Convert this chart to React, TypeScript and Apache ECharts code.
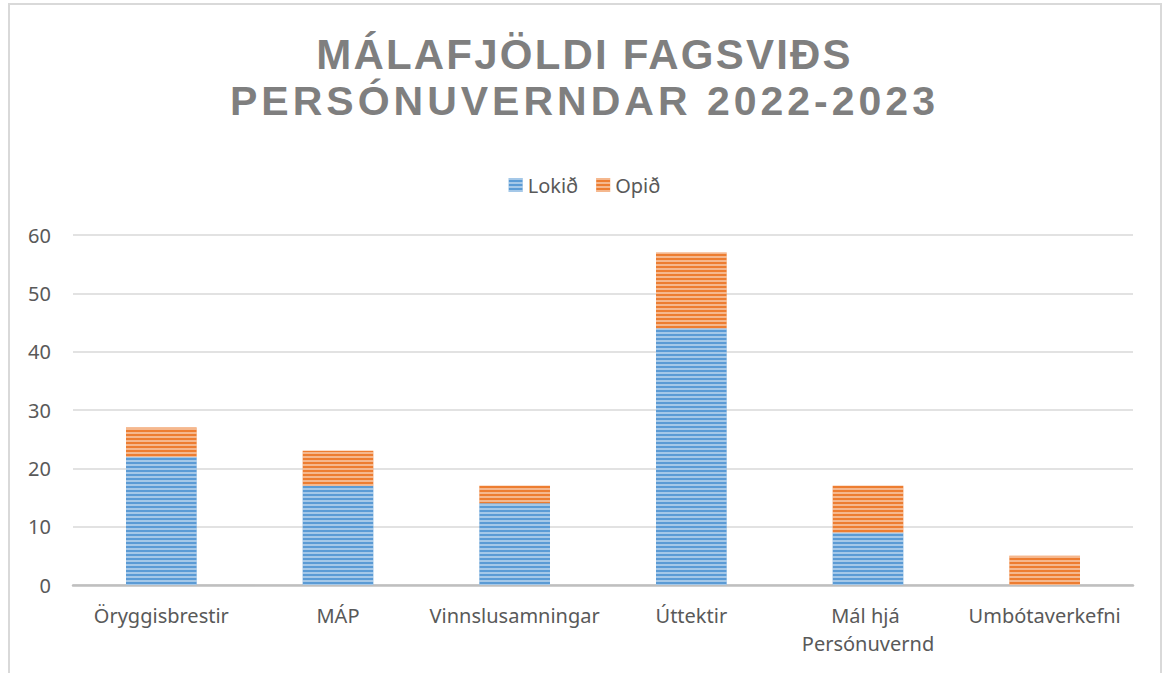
import React, { useEffect, useRef } from "react";
import * as echarts from "echarts";

const categories = ["Öryggisbrestir", "MÁP", "Vinnslusamningar", "Úttektir", "Mál hjá Persónuvernd", "Umbótaverkefni"];
const lokid = [22, 17, 14, 44, 9, 0];
const opid = [5, 6, 3, 13, 8, 5];
const yTicks = { min: 0, max: 60, interval: 10 };
const titleLines = ["MÁLAFJÖLDI FAGSVIÐS", "PERSÓNUVERNDAR 2022-2023"];

const stripeDecal = {
  symbol: "rect",
  symbolSize: 1,
  dashArrayX: [1, 0],
  dashArrayY: [2, 2],
  rotation: 0,
  color: "rgba(255,255,255,0.45)",
};

export default function App() {
  const ref = useRef<HTMLDivElement>(null);
  useEffect(() => {
    document.body.style.margin = "0";
    const chart = echarts.init(ref.current!, null, { renderer: "svg" });
    const titleSizes = [42, 41];
    const titleTops = [33, 80];
    chart.setOption({
      animation: false,
      aria: { enabled: false, decal: { show: true } },
      title: titleLines.map((t, i) => ({
        text: t,
        left: "center",
        top: titleTops[i],
        padding: 0,
        textStyle: {
          fontFamily: "Liberation Sans",
          fontWeight: "bold",
          fontSize: titleSizes[i],
          lineHeight: titleSizes[i],
          color: "#7f7f7f",
        },
      })),
      legend: {
        top: 170,
        left: "center",
        itemWidth: 14,
        itemHeight: 14,
        itemGap: 18,
        icon: "rect",
        textStyle: { fontFamily: "Noto Sans", fontSize: 20, color: "#595959" },
        data: ["Lokið", "Opið"],
      },
      graphic: [
        {
          type: "rect",
          shape: { x: 9, y: 4, width: 1152, height: 720 },
          style: { fill: "none", stroke: "#d9d9d9", lineWidth: 2 },
          silent: true,
        },
      ],
      grid: { left: 73, right: 36, top: 235, bottom: 88 },
      xAxis: {
        type: "category",
        data: categories,
        axisLine: { lineStyle: { color: "#bfbfbf", width: 2.5 } },
        axisTick: { show: false },
        axisLabel: {
          interval: 0,
          margin: 16,
          fontFamily: "Noto Sans",
          fontSize: 20,
          lineHeight: 28,
          color: "#595959",
          width: 172,
          overflow: "break",
        },
      },
      yAxis: {
        type: "value",
        min: yTicks.min,
        max: yTicks.max,
        interval: yTicks.interval,
        axisLine: { show: false },
        axisTick: { show: false },
        splitLine: { lineStyle: { color: "#d9d9d9", width: 1.5 } },
        axisLabel: { margin: 22, fontFamily: "Noto Sans", fontSize: 20, color: "#595959" },
      },
      series: [
        {
          name: "Lokið",
          type: "bar",
          stack: "total",
          data: lokid,
          barWidth: "40%",
          itemStyle: { color: "#5b9bd5", decal: stripeDecal },
        },
        {
          name: "Opið",
          type: "bar",
          stack: "total",
          data: opid,
          barWidth: "40%",
          itemStyle: { color: "#ed7d31", decal: stripeDecal },
        },
      ],
    });
    return () => chart.dispose();
  }, []);
  return (
    <>
      <style>{`
        .chartbox svg text[style*="Liberation Sans"][style*="42px"] { letter-spacing: 2.2px; }
        .chartbox svg text[style*="Liberation Sans"][style*="41px"] { letter-spacing: 4px; }
      `}</style>
      <div className="chartbox" ref={ref} style={{ width: 1169, height: 673 }} />
    </>
  );
}
